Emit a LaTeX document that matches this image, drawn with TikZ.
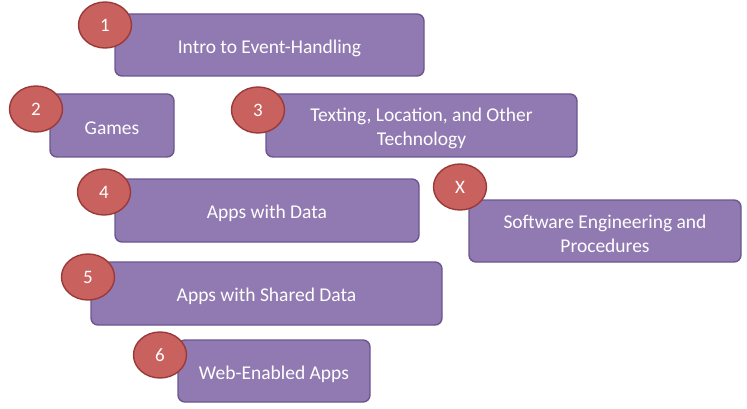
\documentclass[tikz,border=0pt]{standalone}
\usepackage{fontspec}
\setmainfont{Carlito}
\usetikzlibrary{shapes.geometric}
\definecolor{boxfill}{HTML}{9179B1}
\definecolor{boxline}{HTML}{6C5690}
\definecolor{numfill}{HTML}{C9625F}
\definecolor{numline}{HTML}{9A3A38}

\tikzset{
	topic/.style={draw=boxline, fill=boxfill, line width=1.4pt, rounded corners=7pt, inner sep=0pt},
	caption/.style={text=white, align=center, inner sep=0pt, font=\fontsize{19.5}{23.5}\selectfont},
	badge/.style={ellipse, draw=numline, fill=numfill, line width=1.4pt,
		minimum width=53pt, minimum height=46pt, inner sep=0pt,
		text=white, font=\fontsize{19}{22}\selectfont}
}

\begin{document}
\begin{tikzpicture}[x=1pt,y=-1pt]
		\useasboundingbox (0,0) rectangle (747,409);
		\node[topic, minimum width=309pt, minimum height=62pt] (intro) at (269.5,45) {};
		\node[caption] (introtext) at ([yshift=-3pt]intro.center) {Intro to Event-Handling};
		\node[badge] (n1) at (105,25) {1};
		\node[topic, minimum width=124pt, minimum height=63pt] (games) at (112,125.5) {};
		\node[caption] (gamestext) at ([yshift=-3pt]games.center) {Games};
		\node[badge] (n2) at (36,109) {2};
		\node[topic, minimum width=311pt, minimum height=63pt] (texting) at (421.5,125.5) {};
		\node[caption] (textingtext) at ([yshift=-3pt]texting.center) {Texting, Location, and Other\\Technology};
		\node[badge] (n3) at (258,110) {3};
		\node[topic, minimum width=304pt, minimum height=63pt] (data) at (267,210.5) {};
		\node[caption] (datatext) at ([yshift=-3pt]data.center) {Apps with Data};
		\node[badge] (n4) at (104,192) {4};
		\node[topic, minimum width=272pt, minimum height=62pt] (soft) at (605,231) {};
		\node[caption] (softtext) at ([yshift=-3pt]soft.center) {Software Engineering and\\Procedures};
		\node[badge] (nx) at (460,187) {X};
		\node[topic, minimum width=351pt, minimum height=63pt] (shared) at (266.5,293.5) {};
		\node[caption] (sharedtext) at ([yshift=-3pt]shared.center) {Apps with Shared Data};
		\node[badge] (n5) at (88,277) {5};
		\node[topic, minimum width=192pt, minimum height=62pt] (web) at (274,371) {};
		\node[caption] (webtext) at ([yshift=-3pt]web.center) {Web-Enabled Apps};
		\node[badge] (n6) at (160,355) {6};
	\end{tikzpicture}
\end{document}
